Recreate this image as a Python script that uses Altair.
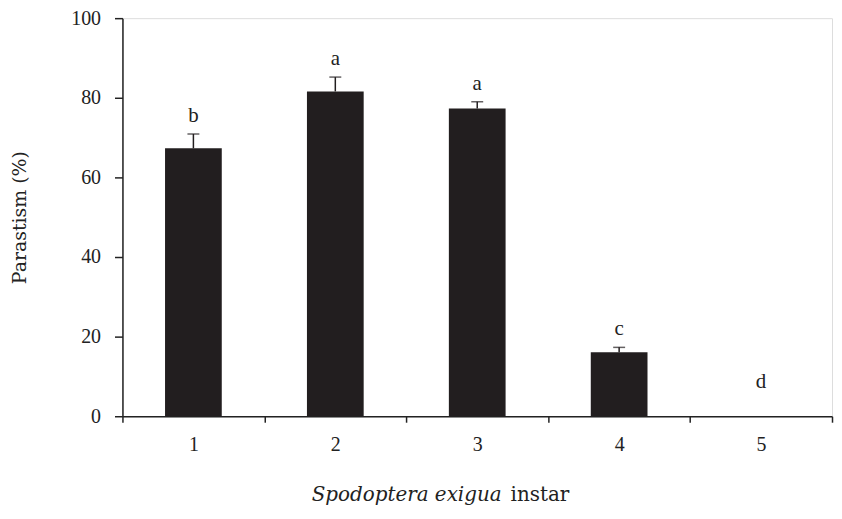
import altair as alt
import pandas as pd

instars = ["1", "2", "3", "4", "5"]
parasitism = [67.3, 81.6, 77.3, 16.1, 0.0]
se = [3.6, 3.6, 1.7, 1.2, 0.0]
letters = ["b", "a", "a", "c", "d"]

df = pd.DataFrame({
    "instar": instars,
    "mean": parasitism,
    "se": se,
    "letter": letters,
})
df["top"] = df["mean"] + df["se"]
df["lab"] = df["top"].clip(lower=4.2)

FONT = "Liberation Serif"
TFONT = "DejaVu Serif"

x = alt.X("instar:N", title=None,
          scale=alt.Scale(paddingInner=0, paddingOuter=0),
          axis=alt.Axis(labelAngle=0, tickBand="extent", labelFont=FONT,
                        labelFontSize=20, labelColor="#222", tickSize=6,
                        labelPadding=12, domainColor="#222", tickColor="#222",
                        domainWidth=1.5, tickWidth=1.5))
y = alt.Y("mean:Q",
          scale=alt.Scale(domain=[0, 100], nice=False),
          axis=alt.Axis(values=[0, 20, 40, 60, 80, 100], grid=False,
                        title="Parastism (%)", titleFont=TFONT, titleFontSize=19,
                        titleFontWeight="normal", titleColor="#222",
                        titlePadding=41,
                        labelFont=FONT, labelFontSize=20, labelColor="#222",
                        tickSize=8, labelPadding=14, domainColor="#222",
                        tickColor="#222", domainWidth=1.5, tickWidth=1.5))

base = alt.Chart(df)

bars = base.mark_bar(size=57, color="#221e1f").encode(x=x, y=y)

errbase = base.transform_filter(alt.datum.se > 0)
err = errbase.mark_rule(color="#221e1f", strokeWidth=1.5).encode(
    x="instar:N", y="mean:Q", y2="top:Q")
cap = errbase.mark_tick(color="#221e1f", size=12, thickness=1.5).encode(
    x="instar:N", y="top:Q")

labels = base.mark_text(font=FONT, fontSize=21, color="#222",
                        baseline="alphabetic", dy=-12).encode(
    x="instar:N", y="lab:Q", text="letter:N")

title_it = alt.Chart(pd.DataFrame({"t": ["Spodoptera exigua"]})).mark_text(
    font=TFONT, fontSize=20, fontStyle="italic", align="right",
    baseline="alphabetic", color="#222").encode(
    x=alt.value(381), y=alt.value(485), text="t:N")
title_rm = alt.Chart(pd.DataFrame({"t": ["instar"]})).mark_text(
    font=TFONT, fontSize=20, align="left",
    baseline="alphabetic", color="#222").encode(
    x=alt.value(390), y=alt.value(485), text="t:N")

chart = alt.layer(bars, err, cap, labels, title_it, title_rm).properties(
    width=713, height=400,
    autosize=alt.AutoSizeParams(type="none"),
    padding={"left": 115, "top": 9, "right": 2, "bottom": 93},
).configure_view(stroke=None).configure(background="white")

chart.save("out.html", embed_options={"renderer": "svg", "actions": False})
